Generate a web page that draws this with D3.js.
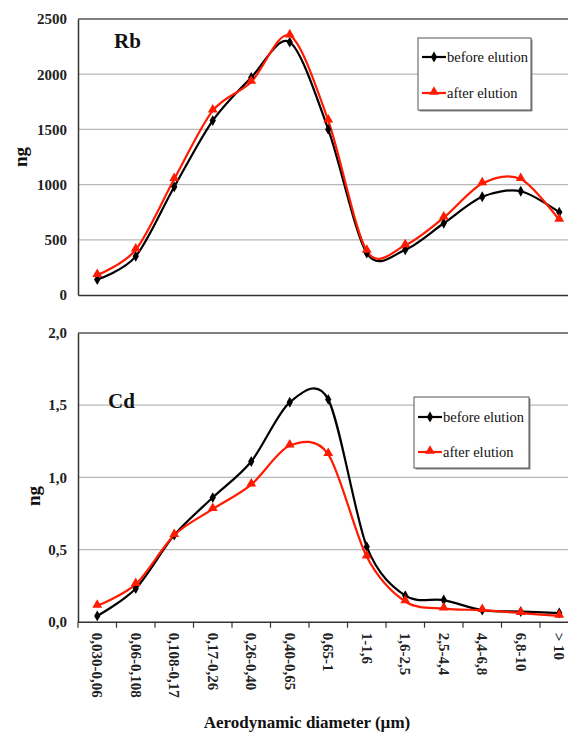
<!DOCTYPE html>
<html>
<head>
  <meta charset="utf-8">
  <script src="https://d3js.org/d3.v7.min.js"></script>
  <style>
    body { margin: 0; background: #fff; }
    svg text { font-family: "Liberation Serif", "DejaVu Serif", serif; }
  </style>
</head>
<body>
<script>
// size classes (aerodynamic diameter, µm)
var sizeClasses = ["0,030-0,06", "0,06-0,108", "0,108-0,17", "0,17-0,26", "0,26-0,40",
  "0,40-0,65", "0,65-1", "1-1,6", "1,6-2,5", "2,5-4,4", "4,4-6,8", "6,8-10", "> 10"];

// Rb (ng)
var rbBefore = [140, 350, 980, 1580, 1970, 2290, 1500, 380, 410, 650, 890, 940, 750];
var rbAfter  = [180, 410, 1050, 1670, 1930, 2350, 1580, 400, 450, 700, 1010, 1050, 680];
var rbTicks  = [0, 500, 1000, 1500, 2000, 2500];

// Cd (ng)
var cdBefore = [0.04, 0.23, 0.60, 0.86, 1.11, 1.52, 1.54, 0.52, 0.18, 0.15, 0.08, 0.07, 0.06];
var cdAfter  = [0.11, 0.26, 0.60, 0.78, 0.95, 1.22, 1.16, 0.45, 0.14, 0.09, 0.08, 0.06, 0.04];
var cdTicks  = [0, 0.5, 1.0, 1.5, 2.0];

var seriesNames = ["before elution", "after elution"];

var W = 568, H = 735;
var SERIF = "Liberation Serif";
var svg = d3.select("body").append("svg").attr("width", W).attr("height", H);

var x = d3.scaleBand().domain(sizeClasses).range([78, 578.5]).padding(0);
var cx = function(d) { return x(d) + x.bandwidth() / 2; };

var diamond = d3.symbol().type(d3.symbolDiamond).size(34);
var triangle = d3.symbol().type(d3.symbolTriangle).size(42);

function panel(opt) {
  var y = d3.scaleLinear().domain(opt.domain).range([opt.bottom, opt.top]);
  var g = svg.append("g");

  // gridlines
  g.selectAll(".grid").data(opt.ticks.slice(1, -1)).enter().append("line")
    .attr("x1", 78).attr("x2", W).attr("y1", d => y(d)).attr("y2", d => y(d))
    .attr("stroke", "#b8b8b8").attr("stroke-width", 1.2);
  // top border
  g.append("line").attr("x1", 78).attr("x2", W).attr("y1", opt.top).attr("y2", opt.top)
    .attr("stroke", "#555").attr("stroke-width", 1.5);

  // y axis
  var ya = d3.axisLeft(y).tickValues(opt.ticks).tickSize(0).tickPadding(11).tickFormat(opt.fmt);
  var yg = g.append("g").attr("transform", "translate(78,0)").call(ya)
    .attr("font-family", SERIF);
  yg.select(".domain").attr("stroke", "#333").attr("stroke-width", 1.5);
  yg.selectAll("text").attr("font-size", 15).attr("font-weight", "bold")
    .attr("fill", "#222");

  // x axis
  var xa = d3.axisBottom(x).tickSize(0).tickFormat("");
  var xg = g.append("g").attr("transform", "translate(0," + opt.bottom + ")").call(xa)
    .attr("font-family", SERIF);
  xg.select(".domain").attr("stroke", "#333").attr("stroke-width", 1.5);
  if (opt.xTicks) {
    xg.selectAll(".bt").data(sizeClasses).enter().append("line")
      .attr("x1", d => x(d)).attr("x2", d => x(d)).attr("y1", 0).attr("y2", 6)
      .attr("stroke", "#333").attr("stroke-width", 1.2);
    xg.selectAll(".lab").data(sizeClasses).enter().append("text")
      .attr("transform", d => "translate(" + (cx(d) - 5) + ",11) rotate(90)")
      .attr("text-anchor", "start")
      .attr("font-size", 15).attr("font-weight", "bold").attr("fill", "#222")
      .text(d => d);
  }

  // lines
  var line = d3.line().x((d, i) => cx(sizeClasses[i])).y(d => y(d))
    .curve(d3.curveCardinal.tension(0.1));
  g.append("path").datum(opt.before).attr("d", line)
    .attr("fill", "none").attr("stroke", "#000").attr("stroke-width", 2.2);
  g.append("path").datum(opt.after).attr("d", line)
    .attr("fill", "none").attr("stroke", "#ff1a00").attr("stroke-width", 2.2);
  g.selectAll(".mb").data(opt.before).enter().append("path")
    .attr("d", diamond).attr("fill", "#000")
    .attr("transform", (d, i) => "translate(" + cx(sizeClasses[i]) + "," + y(d) + ")");
  g.selectAll(".ma").data(opt.after).enter().append("path")
    .attr("d", triangle).attr("fill", "#ff1a00")
    .attr("transform", (d, i) => "translate(" + cx(sizeClasses[i]) + "," + (y(d) - 1) + ")");

  // element label
  g.append("text").attr("x", opt.labelX).attr("y", opt.labelY)
    .attr("font-size", 21).attr("font-weight", "bold").attr("fill", "#111").text(opt.label);

  // y title
  g.append("text").attr("transform", "translate(" + opt.ngX + "," + opt.ngY + ") rotate(-90)")
    .attr("text-anchor", "middle").attr("font-size", 19).attr("font-weight", "bold")
    .attr("fill", "#111").text("ng");

  // legend
  var L = opt.legend;
  g.append("rect").attr("x", L.x + 1.5).attr("y", L.y + 1.5).attr("width", L.w).attr("height", L.h)
    .attr("fill", "#888");
  g.append("rect").attr("x", L.x).attr("y", L.y).attr("width", L.w).attr("height", L.h)
    .attr("fill", "#fff").attr("stroke", "#555").attr("stroke-width", 1);
  seriesNames.forEach(function(name, i) {
    var ly = L.y + L.first + i * L.gap;
    var col = i === 0 ? "#000" : "#ff1a00";
    g.append("line").attr("x1", L.x + 4).attr("x2", L.x + 28).attr("y1", ly).attr("y2", ly)
      .attr("stroke", col).attr("stroke-width", 2.2);
    g.append("path").attr("d", i === 0 ? diamond : triangle).attr("fill", col)
      .attr("transform", "translate(" + (L.x + 16) + "," + (i === 0 ? ly : ly - 1) + ")");
    g.append("text").attr("x", L.x + 29).attr("y", ly + 4.5)
      .attr("font-size", 14.5).attr("fill", "#111").text(name);
  });
}

panel({
  domain: [0, 2500], top: 19, bottom: 295, ticks: rbTicks, fmt: d3.format("d"),
  before: rbBefore, after: rbAfter, xTicks: false,
  label: "Rb", labelX: 114, labelY: 48, ngX: 27, ngY: 157,
  legend: { x: 418, y: 38, w: 113, h: 72, first: 19, gap: 36 }
});

panel({
  domain: [0, 2], top: 333, bottom: 621.7, ticks: cdTicks,
  fmt: d => d3.format(".1f")(d).replace(".", ","),
  before: cdBefore, after: cdAfter, xTicks: true,
  label: "Cd", labelX: 108, labelY: 408, ngX: 40, ngY: 496,
  legend: { x: 414, y: 397, w: 115, h: 71, first: 20, gap: 35 }
});

svg.append("text").attr("x", 307).attr("y", 728).attr("text-anchor", "middle")
  .attr("font-size", 17).attr("font-weight", "bold").attr("fill", "#111")
  .text("Aerodynamic diameter (µm)");
</script>
</body>
</html>
